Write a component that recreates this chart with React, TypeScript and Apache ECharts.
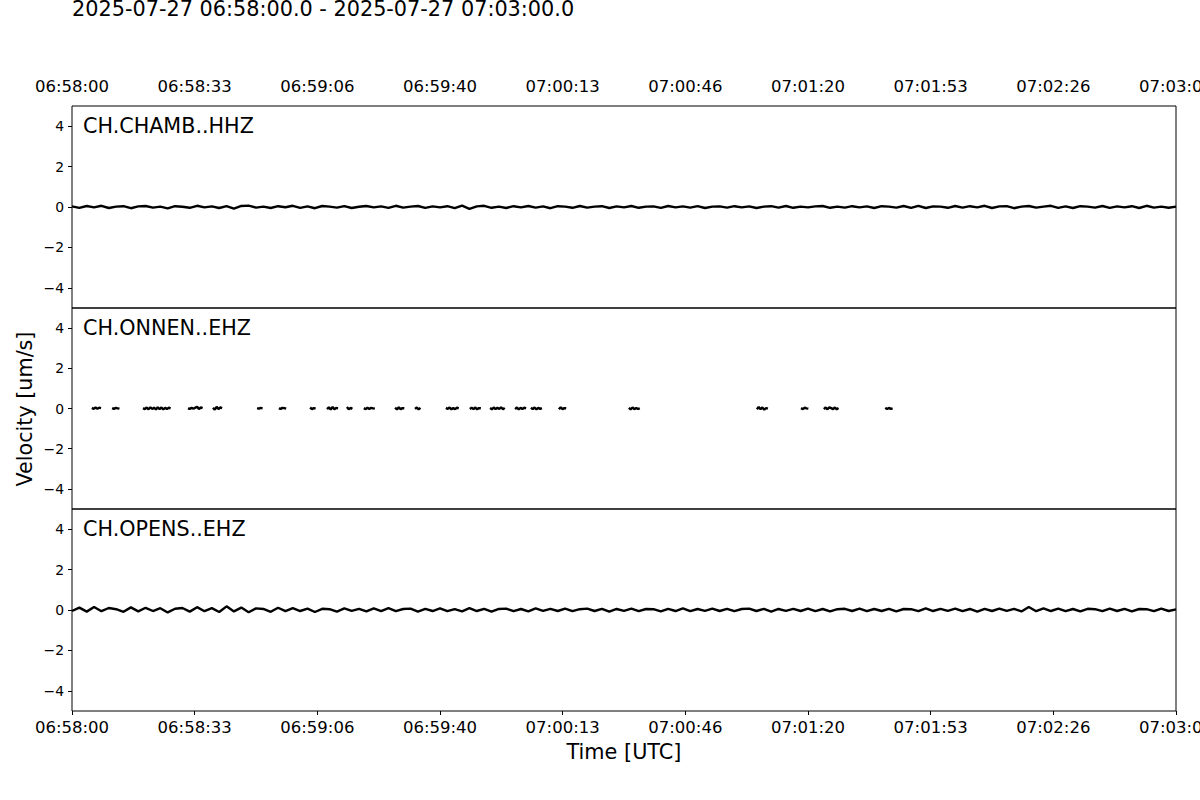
import React, { useEffect, useRef } from "react";
import * as echarts from "echarts";

const titleText = "2025-07-27 06:58:00.0 - 2025-07-27 07:03:00.0";
const stationNames = ["CH.CHAMB..HHZ", "CH.ONNEN..EHZ", "CH.OPENS..EHZ"];
const xTickLabels = [
  "06:58:00", "06:58:33", "06:59:06", "06:59:40", "07:00:13",
  "07:00:46", "07:01:20", "07:01:53", "07:02:26", "07:03:00",
];
const yTickValues = [-4, -2, 0, 2, 4];
const durationSec = 300;
const sampleStep = 2; // seconds between samples for CHAMB / OPENS
const gapStep = 0.5; // seconds between samples for ONNEN segments

const chambValues = [
  0.03, -0.04, 0.05, -0.02, 0.06, -0.05, 0.02, 0.04, -0.06, 0.03,
  0.05, -0.03, 0.02, -0.07, 0.04, 0.01, -0.04, 0.06, -0.02, 0.03,
  -0.05, 0.04, -0.08, 0.05, 0.07, -0.03, 0.02, -0.05, 0.04, -0.01,
  0.06, -0.04, 0.03, -0.06, 0.05, 0.02, -0.03, 0.04, -0.05, 0.01,
  0.05, -0.02, 0.03, -0.04, 0.06, -0.03, 0.02, 0.05, -0.04, 0.03,
  -0.02, 0.04, -0.06, 0.07, -0.09, 0.03, 0.06, -0.04, 0.02, -0.05,
  0.04, -0.02, 0.05, -0.03, 0.03, -0.06, 0.04, 0.02, -0.04, 0.05,
  -0.03, 0.02, 0.04, -0.05, 0.03, -0.02, 0.05, -0.04, 0.02, 0.03,
  -0.04, 0.05, -0.02, 0.03, -0.03, 0.04, -0.05, 0.02, 0.03, -0.03,
  0.04, -0.02, 0.03, -0.05, 0.02, 0.04, -0.03, 0.05, -0.04, 0.02,
  -0.02, 0.03, 0.05, -0.04, 0.02, -0.03, 0.04, -0.02, 0.03, -0.05,
  0.04, 0.02, -0.03, 0.05, -0.04, 0.06, -0.05, 0.03, 0.02, -0.04,
  0.05, -0.03, 0.04, -0.02, 0.06, -0.05, 0.03, 0.04, -0.06, 0.02,
  0.05, -0.03, 0.02, 0.06, -0.04, 0.03, -0.05, 0.04, 0.02, -0.03,
  0.05, -0.04, 0.03, -0.02, 0.04, -0.05, 0.06, -0.03, 0.02, -0.04,
  0.02,
];

const opensValues = [
  -0.05, 0.12, -0.08, 0.15, -0.06, 0.10, 0.04, -0.09, 0.13, -0.07,
  0.11, -0.05, 0.09, -0.12, 0.06, 0.10, -0.08, 0.14, -0.06, 0.09,
  -0.10, 0.18, -0.07, 0.12, -0.11, 0.08, 0.05, -0.09, 0.11, -0.06,
  0.09, -0.05, 0.07, -0.10, 0.06, 0.04, -0.08, 0.08, -0.04, 0.06,
  -0.07, 0.08, -0.05, 0.09, -0.06, 0.05, 0.07, -0.08, 0.06, -0.05,
  0.08, -0.06, 0.04, -0.07, 0.09, -0.05, 0.06, -0.08, 0.05, 0.07,
  -0.06, 0.05, -0.07, 0.08, -0.04, 0.06, -0.05, 0.07, -0.06, 0.04,
  0.07, -0.05, 0.06, -0.08, 0.05, -0.04, 0.07, -0.06, 0.05, 0.04,
  -0.07, 0.06, -0.05, 0.08, -0.06, 0.05, -0.04, 0.07, -0.05, 0.06,
  -0.06, 0.05, 0.07, -0.05, 0.06, -0.08, 0.05, -0.04, 0.06, -0.05,
  0.07, -0.06, 0.05, -0.07, 0.04, 0.06, -0.05, 0.07, -0.06, 0.05,
  -0.05, 0.06, -0.07, 0.05, 0.04, -0.06, 0.08, -0.05, 0.06, -0.04,
  0.07, -0.06, 0.05, -0.08, 0.06, -0.05, 0.07, -0.04, 0.06, -0.07,
  0.15, -0.06, 0.08, -0.05, 0.07, -0.06, 0.05, -0.07, 0.06, 0.04,
  -0.06, 0.07, -0.05, 0.06, -0.07, 0.05, 0.04, -0.06, 0.07, -0.05,
  0.03,
];

// ONNEN has gaps: each segment = [start second, values sampled every gapStep]
const onnenSegments: [number, number[]][] = [
  [5.4, [0.03, -0.02, 0.05, -0.01, 0.04, 0.02]],
  [10.9, [0.02, -0.02, 0.03, 0.01, -0.01]],
  [19.3, [0.02, -0.03, 0.05, -0.04, 0.06, -0.02, 0.04, -0.05, 0.06, -0.03, 0.05, -0.04, 0.03, -0.02, 0.04, 0.01]],
  [31.5, [0.01, -0.02, 0.03, -0.01, 0.04, 0.08, -0.03, 0.05, 0.02]],
  [38.3, [0.04, -0.06, 0.08, -0.03, 0.05, 0.02]],
  [50.3, [0.02, -0.01, 0.03, 0.01]],
  [56.2, [0.01, -0.02, 0.03, 0.02, -0.01]],
  [64.7, [0.05, -0.03, 0.02, -0.01]],
  [69.3, [-0.03, 0.06, -0.05, 0.08, -0.04, 0.03, 0.01]],
  [74.7, [0.07, -0.04, 0.03, -0.02]],
  [79.3, [0.02, -0.03, 0.04, -0.02, 0.03, 0.01, -0.01]],
  [87.8, [0.04, -0.05, 0.06, -0.03, 0.02, 0.01]],
  [93.2, [-0.02, 0.05, -0.04, 0.03]],
  [101.6, [0.03, -0.02, 0.05, -0.04, 0.02, -0.03, 0.04, 0.01]],
  [108.1, [-0.02, 0.04, -0.03, 0.05, -0.04, 0.02, 0.01]],
  [113.6, [0.02, -0.04, 0.05, -0.03, 0.04, -0.02, 0.06, -0.04, 0.03]],
  [120.4, [-0.03, 0.05, -0.04, 0.03, -0.02, 0.04, 0.01]],
  [124.7, [0.04, -0.03, 0.05, -0.04, 0.03, -0.02, 0.02]],
  [132.3, [-0.04, 0.06, -0.03, 0.02, 0.01]],
  [151.3, [0.03, -0.04, 0.05, -0.03, 0.02, -0.02, 0.01]],
  [186.1, [-0.04, 0.07, -0.03, 0.05, -0.06, 0.02, -0.01]],
  [198.1, [0.02, -0.03, 0.04, 0.01, -0.01]],
  [204.3, [-0.03, 0.05, -0.04, 0.06, 0.02, -0.03, 0.05, -0.04, 0.02]],
  [221.0, [0.04, -0.03, 0.03, -0.02, 0.01]],
];

const FONT = "DejaVu Sans";

function regular(values: number[]) {
  return values.map((v, i) => [i * sampleStep, v]);
}

function segmented(segs: [number, number[]][]) {
  const out: (number | null)[][] = [];
  segs.forEach(([start, vals]) => {
    vals.forEach((v, i) => out.push([start + i * gapStep, v]));
    out.push([start + vals.length * gapStep, null]);
  });
  return out;
}

export default function App() {
  const ref = useRef<HTMLDivElement>(null);
  useEffect(() => {
    if (!ref.current) return;
    const chart = echarts.init(ref.current, null, { renderer: "svg" });
    const left = 72;
    const width = 1104;
    const tops = [106, 308, 509];
    const heights = [202, 201, 202];
    const tickPos = xTickLabels.map((_, i) => (i * durationSec) / (xTickLabels.length - 1));
    const fmtX = (v: number) =>
      xTickLabels[Math.round((v * (xTickLabels.length - 1)) / durationSec)] ?? "";
    const seriesData = [regular(chambValues), segmented(onnenSegments), regular(opensValues)];

    const option: any = {
      animation: false,
      backgroundColor: "#ffffff",
      textStyle: { fontFamily: FONT },
      grid: tops.map((t, i) => ({
        left,
        width,
        top: t,
        height: heights[i],
        show: true,
        borderColor: "#000",
        borderWidth: 1,
        backgroundColor: "transparent",
        containLabel: false,
        outerBoundsMode: "none",
      })),
      xAxis: tops.map((_, i) => ({
        type: "value",
        gridIndex: i,
        min: 0,
        max: durationSec,
        position: i === 0 ? "top" : "bottom",
        splitLine: { show: false },
        axisLine: { show: false, onZero: false },
        axisTick: {
          show: i === 2,
          inside: false,
          length: 4,
          lineStyle: { color: "#000", width: 1 },
          customValues: tickPos,
        },
        axisLabel: {
          show: i !== 1,
          customValues: tickPos,
          formatter: fmtX,
          color: "#000",
          fontFamily: FONT,
          fontSize: 16.5,
          margin: i === 0 ? 11 : 8,
          hideOverlap: false,
        },
      })),
      yAxis: tops.map((_, i) => ({
        type: "value",
        gridIndex: i,
        min: -5,
        max: 5,
        splitLine: { show: false },
        axisLine: { show: false, onZero: false },
        axisTick: {
          show: true,
          length: 4,
          lineStyle: { color: "#000", width: 1 },
          customValues: yTickValues,
        },
        axisLabel: {
          customValues: yTickValues,
          formatter: (v: number) => String(v).replace("-", "\u2212"),
          color: "#000",
          fontFamily: FONT,
          fontSize: 13.9,
          margin: 8,
        },
      })),
      series: seriesData.map((d, i) => ({
        type: "line",
        xAxisIndex: i,
        yAxisIndex: i,
        data: d,
        showSymbol: false,
        symbol: "none",
        connectNulls: false,
        lineStyle: { color: "#000", width: 2.4 },
        silent: true,
      })),
      graphic: [
        {
          type: "text",
          x: 72,
          y: 9,
          style: {
            text: titleText,
            fontFamily: FONT,
            fontSize: 20.8,
            fill: "#000",
            textAlign: "left",
            textVerticalAlign: "middle",
          },
        },
        ...stationNames.map((name, i) => ({
          type: "text",
          x: 83,
          y: tops[i] + 20,
          style: {
            text: name,
            fontFamily: FONT,
            fontSize: 20.7,
            fill: "#000",
            textAlign: "left",
            textVerticalAlign: "middle",
          },
        })),
        {
          type: "text",
          x: 25,
          y: 409,
          rotation: Math.PI / 2,
          style: {
            text: "Velocity [um/s]",
            fontFamily: FONT,
            fontSize: 20.7,
            fill: "#000",
            textAlign: "center",
            textVerticalAlign: "middle",
          },
        },
        {
          type: "text",
          x: 624,
          y: 752,
          style: {
            text: "Time [UTC]",
            fontFamily: FONT,
            fontSize: 20.8,
            fill: "#000",
            textAlign: "center",
            textVerticalAlign: "middle",
          },
        },
      ],
    };
    chart.setOption(option);
    return () => chart.dispose();
  }, []);
  return (
    <div
      ref={ref}
      style={{ position: "absolute", left: 0, top: 0, width: 1200, height: 800, background: "#fff" }}
    />
  );
}
